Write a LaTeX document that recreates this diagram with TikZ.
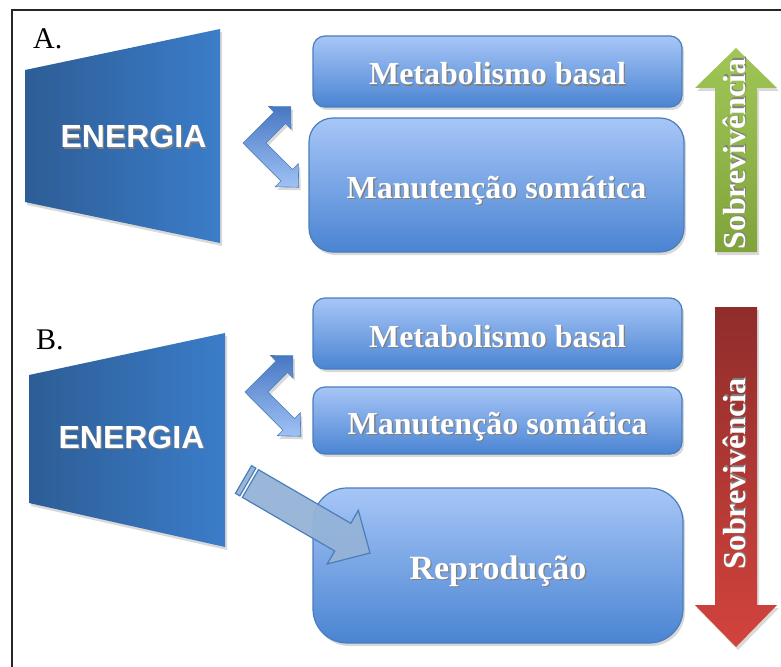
\documentclass[tikz,border=0pt]{standalone}
\usepackage{fontspec}
\setmainfont{Liberation Serif}
\newfontfamily\energiafont{Liberation Sans}
\usetikzlibrary{shadows}

\definecolor{boxtop}{HTML}{A7C6F7}
\definecolor{boxbot}{HTML}{4A84D2}
\definecolor{boxline}{HTML}{4A7EBB}
\definecolor{trapL}{HTML}{2D5D95}
\definecolor{trapR}{HTML}{3B7DCA}
\definecolor{chevtop}{HTML}{4878C3}
\definecolor{chevmid}{HTML}{5285D0}
\definecolor{chevbot}{HTML}{A0C2F5}
\definecolor{greentop}{HTML}{A0C657}
\definecolor{greenbot}{HTML}{80A43B}
\definecolor{redtop}{HTML}{8F2D2B}
\definecolor{redbot}{HTML}{D3433D}
\definecolor{bigarrow}{HTML}{95B3D7}

\newcommand\shtxt[1]{\makebox[0pt][l]{\kern1.3pt\raisebox{-1.3pt}{\textcolor{black!50}{#1}}}#1}

\begin{document}
\begin{tikzpicture}[x=1pt, y=-1pt,
  sombra/.style={drop shadow={shadow xshift=2pt, shadow yshift=-3pt, opacity=0.3}},
  caixa/.style={sombra, rounded corners=12pt, draw=boxline, line width=1.2pt,
    top color=boxtop, bottom color=boxbot, text=white, inner sep=0pt,
    font=\fontsize{32}{36}\selectfont\bfseries, text height=29pt, text depth=2pt},
  energia/.style={text=white, inner sep=0pt, font=\energiafont\bfseries\fontsize{32}{34}\selectfont},
  sobrev/.style={text=white, inner sep=0pt, rotate=90, font=\fontsize{32}{36}\selectfont\bfseries},
  rotulo/.style={inner sep=0pt, anchor=base west, font=\fontsize{30}{32}\selectfont}]
\useasboundingbox (0,0) rectangle (781,666);

\draw[line width=2pt, black!85] (11.5,700) -- (11.5,10.5) -- (800,10.5);

\node[rotulo] (labA) at (33,49) {A.};
\node[rotulo] (labB) at (36,349) {B.};

\shade[sombra, left color=trapL, right color=trapR] (25,70) -- (220,29) -- (220,243) -- (25,202) -- cycle;
\node[energia] (energiaA) at (133.5,137.5) {\shtxt{ENERGIA}};
\shade[sombra, left color=trapL, right color=trapR] (29,375) -- (225,333) -- (225,547) -- (29,503) -- cycle;
\node[energia] (energiaB) at (131.5,438) {\shtxt{ENERGIA}};

\foreach \cx/\cy in {243/143, 245/392} {
  \begin{scope}[shift={(\cx,\cy)}]
  \shade[sombra, top color=chevtop, middle color=chevmid, bottom color=chevbot, draw=boxline, line width=0.6pt]
    (0,0) -- (31,-31) -- (25.5,-36.5) -- (47.75,-36.25) -- (48,-14) -- (42.5,-19.5) -- (23,0)
    -- (49.5,26.5) -- (55.25,20.75) -- (55.75,44.25) -- (32.25,43.75) -- (38,38) -- cycle;
  \end{scope}
}

\node[caixa, minimum width=369pt, minimum height=71pt] (metabA) at (497.5,71.5) {\shtxt{Metabolismo basal}};
\node[caixa, rounded corners=24pt, minimum width=375pt, minimum height=134pt] (manutA) at (496.5,185) {\shtxt{Manutenção somática}};
\node[caixa, minimum width=369pt, minimum height=71pt] (metabB) at (497.5,333.5) {\shtxt{Metabolismo basal}};
\node[caixa, minimum width=369pt, minimum height=67pt] (manutB) at (497.5,420.5) {\shtxt{Manutenção somática}};
\node[caixa, rounded corners=34pt, minimum width=370pt, minimum height=155pt,
  font=\fontsize{34}{38}\selectfont\bfseries] (reprod) at (498,565.5) {\shtxt{Reprodução}};

\filldraw[fill=bigarrow, fill opacity=0.95, draw=boxline, line width=1.2pt]
  (251.54,465.66) -- (255.86,468.17) -- (239.78,495.85) -- (235.46,493.34) -- cycle;
\filldraw[fill=bigarrow, fill opacity=0.95, draw=boxline, line width=1.2pt]
  (258.46,469.68) -- (350.81,523.34) -- (358.34,510.37) -- (370,553) -- (327.2,563.99) -- (334.73,551.02) -- (242.38,497.36) -- cycle;

\shade[sombra, top color=greentop, bottom color=greenbot]
  (736,48) -- (777,88) -- (757,88) -- (757,252) -- (715,252) -- (715,88) -- (695,88) -- cycle;
\node[sobrev] (sobrevA) at (735,154) {\shtxt{Sobrevivência}};

\shade[sombra, top color=redtop, bottom color=redbot]
  (715,307) -- (757,307) -- (757,605) -- (777,605) -- (736,647) -- (695,605) -- (715,605) -- cycle;
\node[sobrev] (sobrevB) at (735,474) {\shtxt{Sobrevivência}};
\end{tikzpicture}
\end{document}
